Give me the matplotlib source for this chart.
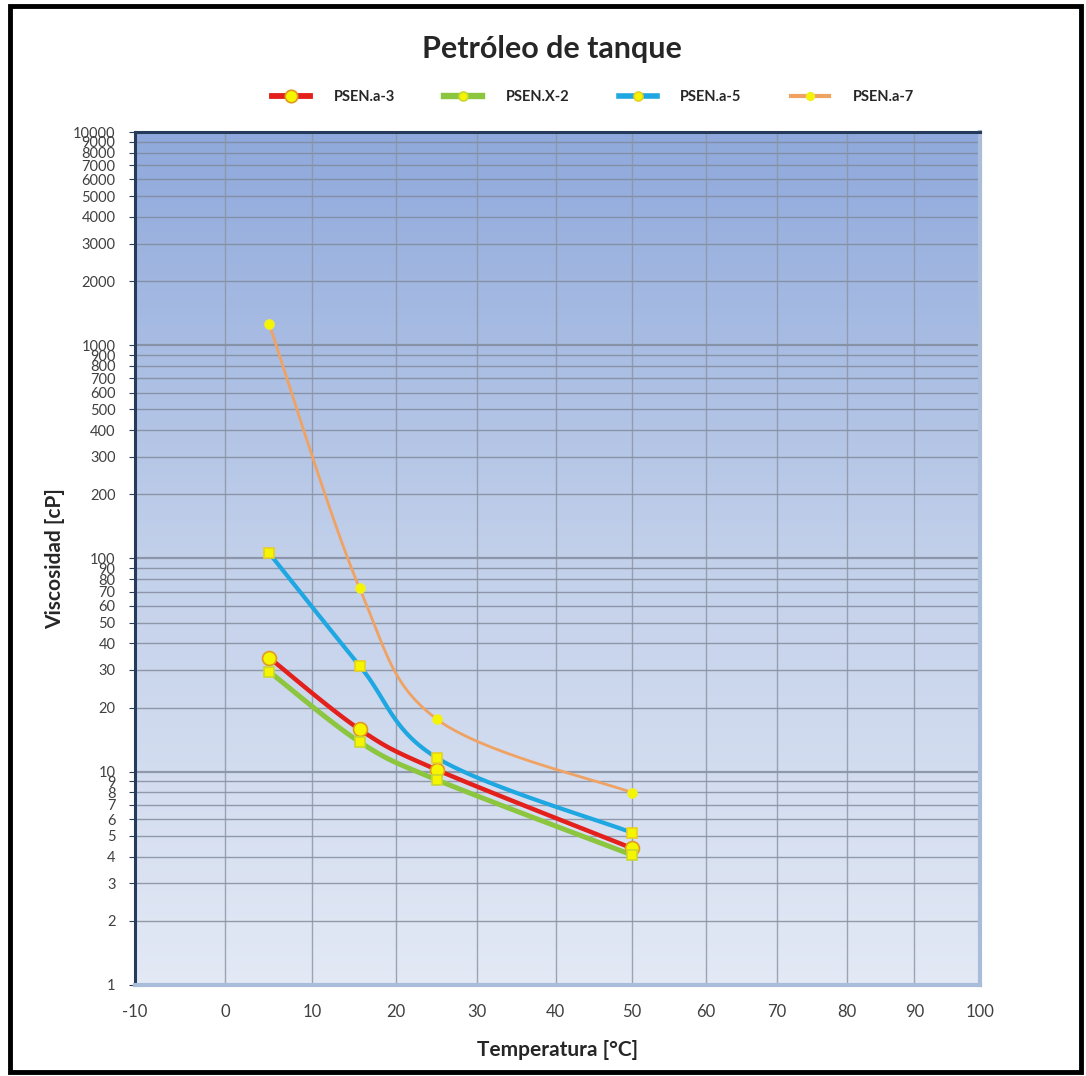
import numpy as np
import matplotlib
matplotlib.use('Agg')
import matplotlib.pyplot as plt
from matplotlib.colors import LinearSegmentedColormap
from matplotlib.patches import Rectangle

plt.rcParams['font.family'] = ['Lato', 'DejaVu Sans']

# temperatura de ensayo [C] y viscosidades medidas [cP]
temps = [5, 15.6, 25, 50]
psen_a3 = [34.3, 15.8, 10.2, 4.38]
psen_x2 = [29.5, 13.8, 9.15, 4.07]
psen_a5 = [106, 31.4, 11.6, 5.18]
psen_a7 = [1258, 72.5, 17.6, 7.98]

x_ticks = [-10, 0, 10, 20, 30, 40, 50, 60, 70, 80, 90, 100]


def fwd(t):
    return np.log10(np.asarray(t) + 273.15)


def inv(u):
    return 10 ** np.asarray(u) - 273.15


def smooth(x, y, n=40):
    # curva suave tipo Excel (Bezier cardinal) en coordenadas log T / log v
    u = fwd(x)
    v = np.log10(y)
    su, sv = [], []
    for i in range(len(u) - 1):
        p0 = (u[max(i - 1, 0)], v[max(i - 1, 0)])
        p1 = (u[i], v[i])
        p2 = (u[i + 1], v[i + 1])
        p3 = (u[min(i + 2, len(u) - 1)], v[min(i + 2, len(u) - 1)])
        c1 = (p1[0] + (p2[0] - p0[0]) / 6, p1[1] + (p2[1] - p0[1]) / 6)
        c2 = (p2[0] - (p3[0] - p1[0]) / 6, p2[1] - (p3[1] - p1[1]) / 6)
        t = np.linspace(0, 1, n)
        b0 = (1 - t) ** 3
        b1 = 3 * (1 - t) ** 2 * t
        b2 = 3 * (1 - t) * t ** 2
        b3 = t ** 3
        su.append(b0 * p1[0] + b1 * c1[0] + b2 * c2[0] + b3 * p2[0])
        sv.append(b0 * p1[1] + b1 * c1[1] + b2 * c2[1] + b3 * p2[1])
    return inv(np.concatenate(su)), 10 ** np.concatenate(sv)


fig = plt.figure(figsize=(10.86, 10.76), dpi=100)
ax = fig.add_axes([0.1243, 0.0846, 0.7781, 0.7927])

ax.set_xscale('function', functions=(fwd, inv))
ax.set_yscale('log')
ax.set_xlim(-10, 100)
ax.set_ylim(1, 10000)

# fondo degradado azul
cmap = LinearSegmentedColormap.from_list('fondo', ['#e3e9f5', '#c2d0ea', '#8fa9dc'])
grad = np.linspace(0, 1, 256).reshape(-1, 1)
ax.imshow(grad, cmap=cmap, aspect='auto', extent=[0, 1, 0, 1],
          transform=ax.transAxes, origin='lower', zorder=0)

# rejilla
for yv in [m * 10 ** d for d in range(4) for m in range(1, 10)] + [10000]:
    lw = 1.6 if yv in (10, 100, 1000, 10000) else 1.0
    ax.axhline(yv, color='#7f8898', lw=lw, alpha=0.8, zorder=1)
for xv in x_ticks[1:-1]:
    ax.axvline(xv, color='#8a93a2', lw=1.0, alpha=0.8, zorder=1)

series = [
    ('PSEN.a-3', psen_a3, '#e3201b', 3.2, 'o', 10, '#e09a20'),
    ('PSEN.X-2', psen_x2, '#8cc63f', 3.6, 's', 7.5, '#c8d830'),
    ('PSEN.a-5', psen_a5, '#1ea7e1', 3.0, 's', 7.5, '#e8d020'),
    ('PSEN.a-7', psen_a7, '#f0a263', 2.0, 'o', 6.5, '#f0f020'),
]
handles = []
for name, vals, col, lw, mk, ms, edge in series:
    sx, sy = smooth(temps, vals)
    ax.plot(sx, sy, color=col, lw=lw, zorder=3, solid_capstyle='round')
    ax.plot(temps, vals, ls='none', marker=mk, ms=ms, mfc='#f6f500',
            mec=edge, mew=1.2, zorder=4)
    h, = ax.plot([], [], color=col, lw=lw + 1, marker='o', ms=ms - 1,
                 mfc='#f6f500', mec=edge, mew=1.2)
    handles.append(h)

ax.set_xticks(x_ticks)
ax.set_xticklabels([str(v) for v in x_ticks])
yt = [m * 10 ** d for d in range(4) for m in range(1, 10)] + [10000]
ax.set_yticks(yt)
ax.set_yticklabels([str(v) for v in yt])
ax.yaxis.set_minor_locator(matplotlib.ticker.NullLocator())
ax.xaxis.set_minor_locator(matplotlib.ticker.NullLocator())
ax.tick_params(axis='y', labelsize=10.5, labelcolor='#404040', length=4,
               color='#2a3a5a', pad=10)
ax.tick_params(axis='x', labelsize=12, labelcolor='#404040', length=0, pad=14)

for s in ['left', 'top']:
    ax.spines[s].set_color('#263a5c')
    ax.spines[s].set_linewidth(2.2)
for s in ['right', 'bottom']:
    ax.spines[s].set_color('#a9bcd9')
    ax.spines[s].set_linewidth(3)

ax.set_xlabel('Temperatura [°C]', fontsize=15, fontweight='bold',
              color='#262626', labelpad=14)
ax.set_ylabel('Viscosidad [cP]', fontsize=15, fontweight='bold',
              color='#262626', labelpad=6)

fig.text(0.508, 0.954, 'Petróleo de tanque', ha='center', va='center',
         fontsize=22, fontweight='bold', color='#262626')

leg = fig.legend(handles, [s[0] for s in series], loc='center',
                 bbox_to_anchor=(0.546, 0.91), ncol=4, frameon=False,
                 prop={'size': 10.5, 'weight': 'bold'}, handlelength=2.6,
                 columnspacing=3.4, handletextpad=1.6)
for t in leg.get_texts():
    t.set_color('#262626')

# marco exterior
fig.patches.append(Rectangle((0.009, 0.004), 0.986, 0.99, transform=fig.transFigure,
                             fill=False, ec='black', lw=3.5))

fig.savefig('out.png', dpi=100)
